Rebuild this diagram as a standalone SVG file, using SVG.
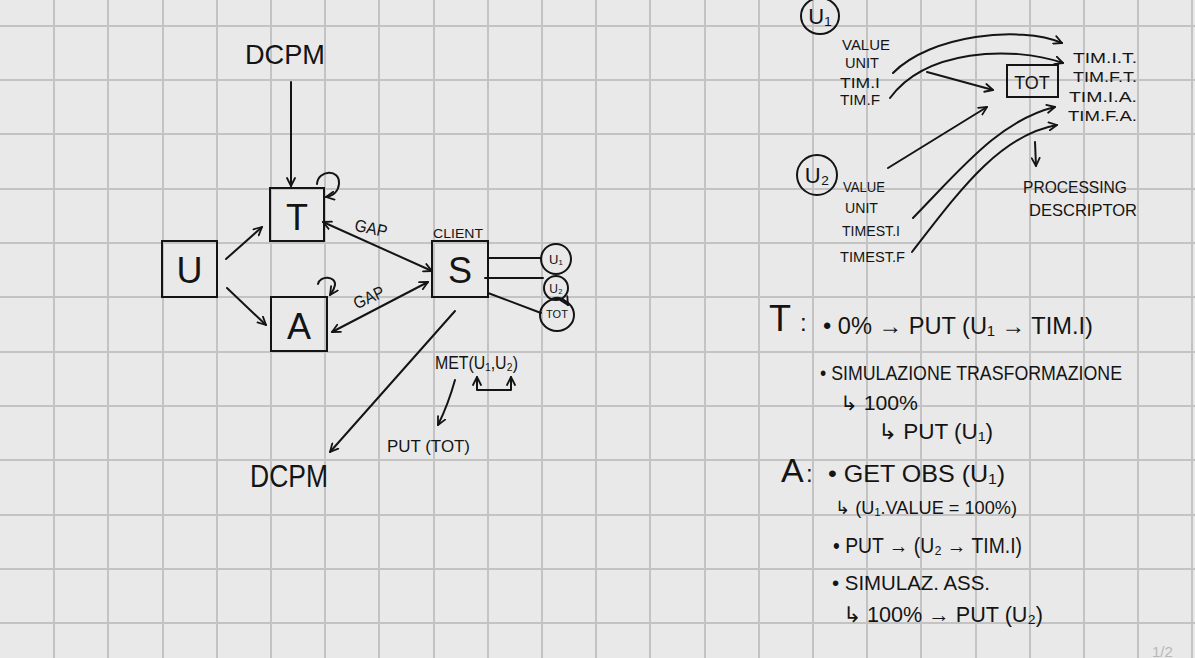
<svg xmlns="http://www.w3.org/2000/svg" width="1195" height="658" viewBox="0 0 1195 658">
<defs>
<style>
.grid{stroke:#c3c3c3;stroke-width:2;fill:none}
.ln{stroke:#141414;stroke-width:2;fill:none;stroke-linecap:round;stroke-linejoin:round}
.box{stroke:#141414;stroke-width:2;fill:none}
.t{font-family:"Liberation Sans","DejaVu Sans",sans-serif;fill:#141414}
</style>
<marker id="ah" viewBox="0 0 10 10" refX="9" refY="5" markerWidth="10" markerHeight="10" markerUnits="userSpaceOnUse" orient="auto-start-reverse">
<path d="M1,1 L9,5 L1,9" fill="none" stroke="#141414" stroke-width="1.8" stroke-linecap="round" stroke-linejoin="round"/>
</marker>
</defs>
<rect width="1195" height="658" fill="#e9e9e9"/>
<g id="grid" class="grid">
<path d="M54,0V658M108,0V658M163,0V658M217,0V658M271,0V658M325,0V658M379,0V658M434,0V658M488,0V658M542,0V658M596,0V658M650,0V658M705,0V658M759,0V658M813,0V658M867,0V658M921,0V658M976,0V658M1030,0V658M1084,0V658M1138,0V658M1192,0V658"/>
<path d="M0,26H1195M0,80H1195M0,134H1195M0,189H1195M0,243H1195M0,297H1195M0,352H1195M0,406H1195M0,460H1195M0,515H1195M0,569H1195M0,623H1195"/>
</g>
<g id="connectors" class="ln">
<path d="M291,82 L291,186" marker-end="url(#ah)"/>
<path d="M317,184 C318,170 340,168 339,184 C338,193 332,196 326,197" marker-end="url(#ah)"/>
<path d="M318,284 C320,275 336,276 335,285 C334,290 332,292 330,295" marker-end="url(#ah)"/>
<path d="M226,259 L262,227" marker-end="url(#ah)"/>
<path d="M227,288 L266,325" marker-end="url(#ah)"/>
<path d="M323,222 L432,271" marker-start="url(#ah)" marker-end="url(#ah)"/>
<path d="M332,332 L428,282" marker-start="url(#ah)" marker-end="url(#ah)"/>
<path d="M488,258 L541,258"/>
<path d="M485,278 L543,278"/>
<path d="M488,293 L541,313"/>
<path d="M552,299 Q562,295 568,305" marker-end="url(#ah)"/>
<path d="M455,311 L330,452" marker-end="url(#ah)"/>
<path d="M455,380 Q448,405 438,425" marker-end="url(#ah)"/>
<path d="M477,377 L477,390 L511,390 L511,377" marker-start="url(#ah)" marker-end="url(#ah)"/>
<path d="M893,73 C930,35 1020,25 1062,43" marker-end="url(#ah)"/>
<path d="M890,98 C925,50 1010,45 1063,63" marker-end="url(#ah)"/>
<path d="M927,72 L993,90" marker-end="url(#ah)"/>
<path d="M888,168 L987,107" marker-end="url(#ah)"/>
<path d="M913,218 C960,170 1000,120 1055,107" marker-end="url(#ah)"/>
<path d="M912,252 C960,190 1000,135 1057,125" marker-end="url(#ah)"/>
<path d="M1035,142 L1036,166" marker-end="url(#ah)"/>
</g>
<g id="dcpm-top"><text class="t" x="245" y="64" font-size="28" textLength="80" lengthAdjust="spacingAndGlyphs">DCPM</text></g>
<g id="node-T"><rect class="box" x="270" y="188" width="54" height="53"/><text class="t" x="297" y="230" font-size="36" text-anchor="middle">T</text></g>
<g id="node-U"><rect class="box" x="162" y="241" width="55" height="56"/><text class="t" x="189.5" y="283" font-size="36" text-anchor="middle">U</text></g>
<g id="node-A"><rect class="box" x="271" y="297" width="56" height="54"/><text class="t" x="299" y="339" font-size="36" text-anchor="middle">A</text></g>
<g id="node-S"><rect class="box" x="432" y="241" width="56" height="56"/><text class="t" x="460" y="283" font-size="36" text-anchor="middle">S</text><text class="t" x="433" y="238" font-size="13" textLength="50" lengthAdjust="spacingAndGlyphs">CLIENT</text></g>
<g id="gap1"><text class="t" x="355" y="234" font-size="17" transform="rotate(12 371 226)" textLength="33" lengthAdjust="spacingAndGlyphs">GAP</text></g>
<g id="gap2"><text class="t" x="352" y="304" font-size="17" transform="rotate(-25 367 296)" textLength="32" lengthAdjust="spacingAndGlyphs">GAP</text></g>
<g id="c-u1"><circle class="box" cx="556" cy="259" r="15"/><text class="t" x="556" y="264" font-size="13" text-anchor="middle">U₁</text></g>
<g id="c-u2"><circle class="box" cx="556" cy="288" r="12"/><text class="t" x="556" y="293" font-size="12" text-anchor="middle">U₂</text></g>
<g id="c-tot"><ellipse class="box" cx="557" cy="315" rx="17" ry="16"/><text class="t" x="557" y="318" font-size="11" text-anchor="middle">TOT</text></g>
<g id="met"><text class="t" x="435" y="369" font-size="18" textLength="83" lengthAdjust="spacingAndGlyphs">MET(U₁,U₂)</text></g>
<g id="put-tot"><text class="t" x="387" y="452" font-size="16" textLength="83" lengthAdjust="spacingAndGlyphs">PUT (TOT)</text></g>
<g id="dcpm-bottom"><text class="t" x="250" y="487" font-size="31" textLength="78" lengthAdjust="spacingAndGlyphs">DCPM</text></g>
<g id="u1-desc">
<ellipse class="box" cx="820" cy="16" rx="19" ry="18"/><text class="t" x="820" y="24" font-size="22" text-anchor="middle">U₁</text>
<text class="t" x="842" y="50" font-size="15" textLength="48" lengthAdjust="spacingAndGlyphs">VALUE</text>
<text class="t" x="845" y="68" font-size="14" textLength="34" lengthAdjust="spacingAndGlyphs">UNIT</text>
<text class="t" x="840" y="88" font-size="14" textLength="40" lengthAdjust="spacingAndGlyphs">TIM.I</text>
<text class="t" x="840" y="105" font-size="14" textLength="40" lengthAdjust="spacingAndGlyphs">TIM.F</text>
</g>
<g id="u2-desc">
<circle class="box" cx="817" cy="175" r="20"/><text class="t" x="817" y="183" font-size="22" text-anchor="middle">U₂</text>
<text class="t" x="843" y="192" font-size="14" textLength="42" lengthAdjust="spacingAndGlyphs">VALUE</text>
<text class="t" x="845" y="213" font-size="14" textLength="33" lengthAdjust="spacingAndGlyphs">UNIT</text>
<text class="t" x="842" y="236" font-size="14" textLength="58" lengthAdjust="spacingAndGlyphs">TIMEST.I</text>
<text class="t" x="840" y="262" font-size="14" textLength="65" lengthAdjust="spacingAndGlyphs">TIMEST.F</text>
</g>
<g id="tot-node"><rect class="box" x="1007" y="65" width="51" height="32"/><text class="t" x="1032" y="89" font-size="18" text-anchor="middle">TOT</text></g>
<g id="tot-fields">
<text class="t" x="1073" y="63" font-size="14" textLength="64" lengthAdjust="spacingAndGlyphs">TIM.I.T.</text>
<text class="t" x="1073" y="82" font-size="14" textLength="64" lengthAdjust="spacingAndGlyphs">TIM.F.T.</text>
<text class="t" x="1069" y="102" font-size="14" textLength="68" lengthAdjust="spacingAndGlyphs">TIM.I.A.</text>
<text class="t" x="1068" y="121" font-size="14" textLength="69" lengthAdjust="spacingAndGlyphs">TIM.F.A.</text>
</g>
<g id="proc-desc">
<text class="t" x="1023" y="193" font-size="17" textLength="104" lengthAdjust="spacingAndGlyphs">PROCESSING</text>
<text class="t" x="1029" y="216" font-size="17" textLength="108" lengthAdjust="spacingAndGlyphs">DESCRIPTOR</text>
</g>
<g id="notes">
<text class="t" x="769" y="331" font-size="36">T</text><text class="t" x="800" y="331" font-size="24">:</text>
<text class="t" x="823" y="334" font-size="24" textLength="270" lengthAdjust="spacingAndGlyphs">• 0% → PUT (U₁ → TIM.I)</text>
<text class="t" x="820" y="380" font-size="20" textLength="302" lengthAdjust="spacingAndGlyphs">• SIMULAZIONE   TRASFORMAZIONE</text>
<text class="t" x="840" y="410" font-size="20" textLength="78" lengthAdjust="spacingAndGlyphs">↳ 100%</text>
<text class="t" x="878" y="439" font-size="22" textLength="115" lengthAdjust="spacingAndGlyphs">↳ PUT (U₁)</text>
<text class="t" x="781" y="482" font-size="34">A</text><text class="t" x="806" y="482" font-size="24">:</text>
<text class="t" x="828" y="482" font-size="24" textLength="177" lengthAdjust="spacingAndGlyphs">• GET OBS (U₁)</text>
<text class="t" x="835" y="514" font-size="18" textLength="182" lengthAdjust="spacingAndGlyphs">↳ (U₁.VALUE = 100%)</text>
<text class="t" x="833" y="553" font-size="22" textLength="189" lengthAdjust="spacingAndGlyphs">• PUT → (U₂ → TIM.I)</text>
<text class="t" x="832" y="590" font-size="20" textLength="158" lengthAdjust="spacingAndGlyphs">• SIMULAZ. ASS.</text>
<text class="t" x="843" y="622" font-size="22" textLength="200" lengthAdjust="spacingAndGlyphs">↳ 100% → PUT (U₂)</text>
</g>
<g id="page"><text class="t" x="1152" y="657" font-size="15" fill="#b8b8b8" style="fill:#b8b8b8">1/2</text></g>
</svg>
